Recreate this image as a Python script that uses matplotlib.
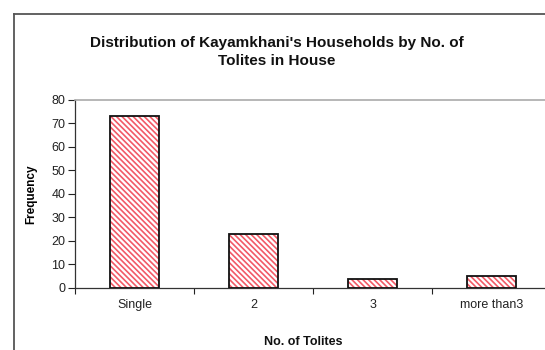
import numpy as np
import matplotlib.pyplot as plt
from matplotlib.lines import Line2D

plt.rcParams['font.family'] = ['Liberation Sans', 'DejaVu Sans']
plt.rcParams['hatch.linewidth'] = 1.2

# Households by number of tolites
categories = ["Single", "2", "3", "more than3"]
frequency = [73, 23, 4, 5]

W, H = 545, 350
fig = plt.figure(figsize=(W / 100, H / 100), dpi=100)
ax = fig.add_axes([75 / W, 1 - 288 / H, (551 - 75) / W, (288 - 99.5) / H])

x = np.arange(len(categories))
# red hatch fill, then a black outline on top
ax.bar(x, frequency, width=0.42, color='white', edgecolor='#f25a66',
       linewidth=0, hatch='\\\\\\\\\\\\', zorder=3)
ax.bar(x, frequency, width=0.42, fill=False, edgecolor='#111111',
       linewidth=1.3, zorder=4)

ax.set_xlim(-0.5, len(categories) - 0.5)
ax.set_ylim(0, 80)
ax.set_yticks(np.arange(0, 81, 10))
ax.tick_params(axis='y', direction='out', length=5, width=0.8, labelsize=9,
               pad=2, colors='#222222')

# category labels centred, tick marks on the boundaries
ax.set_xticks(x)
ax.set_xticklabels(categories, fontsize=9, color='#222222')
ax.tick_params(axis='x', length=0, pad=8)
ax.set_xticks(np.arange(-0.5, len(categories)), minor=True)
ax.tick_params(axis='x', which='minor', direction='out', length=4, width=0.8,
               color='#222222')

for side in ['left', 'bottom']:
    ax.spines[side].set_color('#333333')
    ax.spines[side].set_linewidth(0.9)
ax.spines['top'].set_color('#aaaaaa')
ax.spines['top'].set_linewidth(1.2)
ax.spines['right'].set_visible(False)

ax.set_ylabel("Frequency", fontsize=8.5, fontweight='bold', labelpad=10)
fig.text(303 / W, 1 - 342 / H, "No. of Tolites", ha='center', va='center',
         fontsize=9, fontweight='bold', color='#111111')

fig.text(277 / W, 1 - 52 / H,
         "Distribution of Kayamkhani's Households by No. of\nTolites in House",
         ha='center', va='center', fontsize=11, fontweight='bold',
         linespacing=1.3, color='#111111')

# chart frame
fig.add_artist(Line2D([14 / W, 14 / W], [0, 1 - 14 / H], color='#555555',
                      linewidth=1.3, transform=fig.transFigure))
fig.add_artist(Line2D([14 / W, 1], [1 - 14 / H, 1 - 14 / H], color='#555555',
                      linewidth=1.3, transform=fig.transFigure))

fig.savefig("out.png", dpi=100)
